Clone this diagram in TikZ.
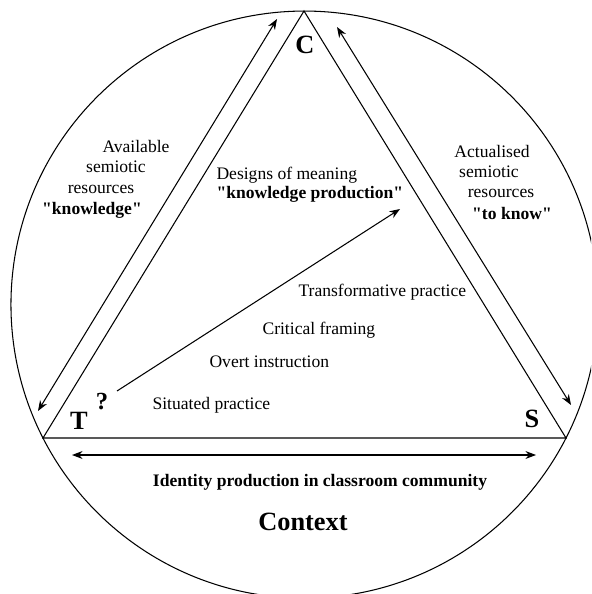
\documentclass[tikz,border=0pt]{standalone}
\usepackage{fontspec}
\setmainfont{Liberation Serif}[Ligatures=TeXOff]
\usetikzlibrary{arrows.meta, positioning}
\tikzset{>={Stealth[length=6pt, width=4.5pt]}}

\begin{document}
\begin{tikzpicture}[x=0.02cm, y=-0.02cm, line width=0.6pt,
    txt/.style={font=\fontsize{10}{12}\selectfont, inner sep=0pt},
    btxt/.style={font=\fontsize{10}{12}\selectfont\bfseries, inner sep=0pt},
    corner/.style={font=\fontsize{15}{18}\selectfont\bfseries, inner sep=0pt}]
      \useasboundingbox (0, 0) rectangle (591, 594);
      \clip (0, 0) rectangle (591, 594);

      % circle and triangle
      \draw (304.5, 304.6) circle [radius=5.872cm];
      \coordinate (C) at (304, 11);
      \coordinate (T) at (43, 438);
      \coordinate (S) at (566, 438);
      \draw (T) -- (C) -- (S) -- cycle;

      % corner letters
      \node [corner] (clbl) at (305, 45) {C};
      \node [corner] (tlbl) at (79, 421) {T};
      \node [corner] (slbl) at (532, 419) {S};
      \node [corner, font=\fontsize{14}{16}\selectfont\bfseries] (qm) at (102, 402) {?};

      % side arrows
      \coordinate (la1) at (38, 411);
      \coordinate (la2) at (277, 19);
      \coordinate (ra1) at (337, 27);
      \coordinate (ra2) at (571, 405);
      \coordinate (ba1) at (72, 455);
      \coordinate (ba2) at (536, 455);
      \draw [<->] (la1) -- (la2);
      \draw [<->] (ra1) -- (ra2);
      \draw [<->] (ba1) -- (ba2);

      % left side text
      \node [txt] (av1) at (136, 146) {Available};
      \node [txt] (av2) at (116, 167) {semiotic};
      \node [txt] (av3) at (101, 189) {resources};
      \node [btxt] (av4) at (92, 210) {"knowledge"};

      % right side text
      \node [txt] (ac1) at (492, 151) {Actualised};
      \node [txt] (ac2) at (489, 172) {semiotic};
      \node [txt] (ac3) at (501, 193) {resources};
      \node [btxt] (ac4) at (512, 213) {"to know"};

      % inside the triangle
      \node [txt, anchor=west] (dm1) at (216, 175) {Designs of meaning};
      \node [btxt, anchor=west] (dm2) at (216, 194) {"knowledge production"};
      \node [txt, anchor=west] (tp) at (298, 292) {Transformative practice};
      \node [txt, anchor=west] (cf) at (262, 330) {Critical framing};
      \node [txt, anchor=west] (oi) at (209, 362) {Overt instruction};
      \node [txt, anchor=west] (sp) at (152, 405) {Situated practice};

      \coordinate (kp0) at (117, 391);
      \coordinate (kp1) at (400, 209);
      \draw [->] (kp0) -- (kp1);

      % below the base
      \node [btxt] (idp) at (320, 482) {Identity production in classroom community};
      \node [corner] (ctx) at (303, 522) {Context};
\end{tikzpicture}
\end{document}
